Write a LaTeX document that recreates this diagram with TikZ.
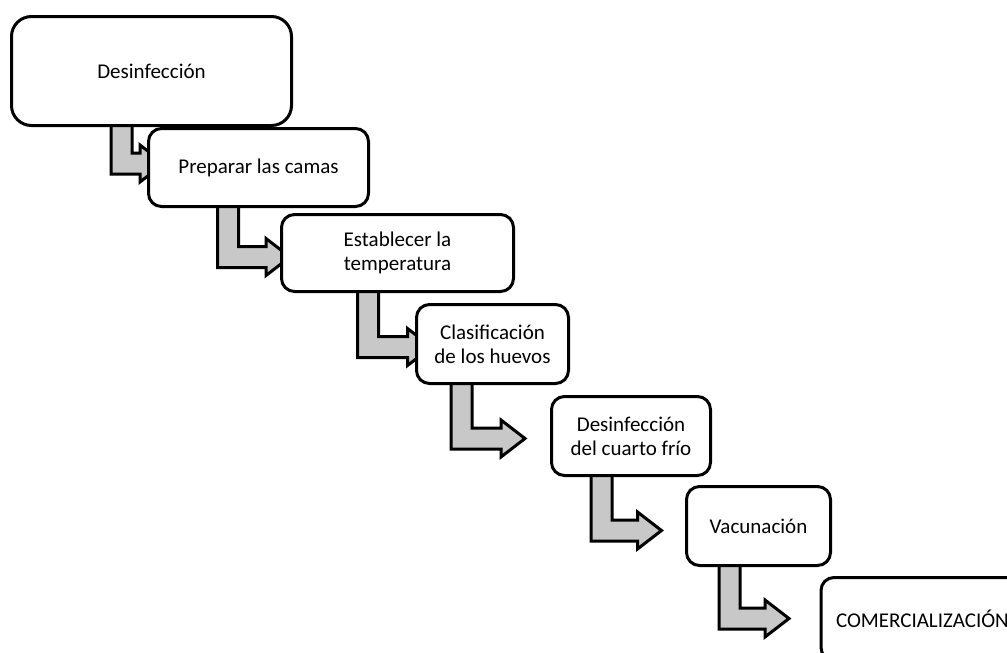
\documentclass[tikz,border=0pt]{standalone}
\usepackage{fontspec}
\setmainfont{Carlito}
\usetikzlibrary{backgrounds}
\definecolor{stepgray}{RGB}{200,200,200}
% bent block arrow: source node, shaft x, bottom y, head base x
\newcommand{\stairarrow}[4]{%
  \draw[stair] (#2,0 |- #1.center) -- (#2,#3) -- (#4,#3) -- (#4,#3+8)
    -- (#4+24,#3-10.5) -- (#4,#3-29) -- (#4,#3-21) -- (#2+21,#3-21)
    -- (#2+21,0 |- #1.center) -- cycle;}
\begin{document}
\begin{tikzpicture}[x=1pt,y=-1pt,line join=miter,
  stage/.style={draw,fill=white,line width=3pt,rounded corners=13pt,align=center,
    inner sep=0pt,font=\fontsize{21}{24}\selectfont},
  stair/.style={draw,fill=stepgray,line width=3pt}]
  \useasboundingbox (0,0) rectangle (1007,653);
  \clip (0,0) rectangle (1007,653);
  \node[stage,rounded corners=20pt,minimum width=280,minimum height=109] (desinf) at (151.5,71) {Desinfección};
  \node[stage,minimum width=220,minimum height=78] (camas) at (258.5,167.5) {Preparar las camas};
  \node[stage,minimum width=232,minimum height=77] (temp) at (397.5,253) {Establecer la\\temperatura};
  \node[stage,minimum width=152,minimum height=79] (clasif) at (492.5,344) {Clasificación\\de los huevos};
  \node[stage,minimum width=159,minimum height=79] (cuarto) at (631,436) {Desinfección\\del cuarto frío};
  \node[stage,minimum width=144,minimum height=79] (vacuna) at (758.5,526) {Vacunación};
  \node[stage,anchor=west,align=left,text width=215,inner xsep=15,minimum height=83] (comer) at (819.5,619) {COMERCIALIZACIÓN};
  \begin{pgfonlayer}{background}
    \stairarrow{desinf}{111}{174}{140}
    \stairarrow{camas}{217.5}{267.5}{266}
    \stairarrow{temp}{357.5}{357.5}{407.5}
    \stairarrow{clasif}{451}{449}{501}
    \stairarrow{cuarto}{591}{541}{637.5}
    \stairarrow{vacuna}{719}{629}{765}
  \end{pgfonlayer}
\end{tikzpicture}
\end{document}
